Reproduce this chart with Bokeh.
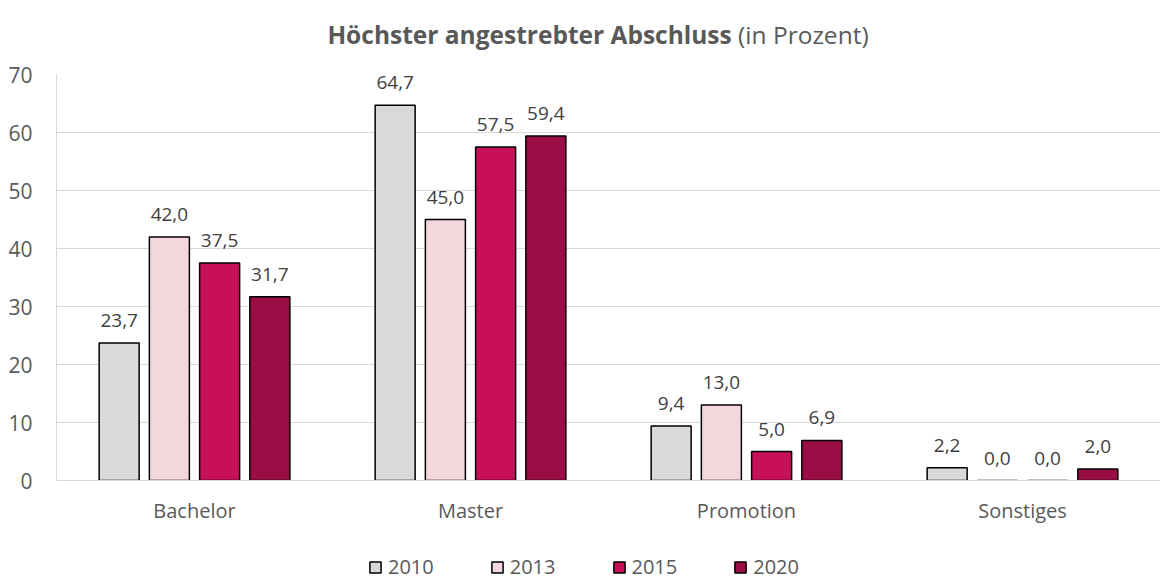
from bokeh.plotting import figure
from bokeh.models import ColumnDataSource, FactorRange, Legend, LegendItem, Range1d, Div
from bokeh.layouts import column
from bokeh.transform import dodge
from bokeh.core.properties import value
from bokeh.embed import file_html
from bokeh.resources import INLINE

categories = ["Bachelor", "Master", "Promotion", "Sonstiges"]
years = ["2010", "2013", "2015", "2020"]
v2010 = [23.7, 64.7, 9.4, 2.2]
v2013 = [42.0, 45.0, 13.0, 0.0]
v2015 = [37.5, 57.5, 5.0, 0.0]
v2020 = [31.7, 59.4, 6.9, 2.0]
colors = ["#d9d9d9", "#f4d7dc", "#c8105a", "#9b0d45"]
title_bold = "Höchster angestrebter Abschluss"
title_rest = "(in Prozent)"

FONT = "Open Sans"
series = [v2010, v2013, v2015, v2020]
data = {"cat": categories}
for y, vals in zip(years, series):
    data["y" + y] = vals
    data["l" + y] = [f"{v:.1f}".replace(".", ",") for v in vals]
src = ColumnDataSource(data)

title = Div(text=f'<div style="width:1160px;box-sizing:border-box;padding-left:36px;'
                 f'text-align:center;font-family:\'{FONT}\';'
                 f'font-size:24.5px;line-height:30px;color:#595959;padding-top:20px;">'
                 f'<b>{title_bold}</b> {title_rest}</div>',
            width=1160, height=60, margin=0)

p = figure(width=1160, height=470, x_range=FactorRange(*categories),
           y_range=Range1d(0, 70), output_backend="svg", toolbar_location=None,
           min_border_left=56, min_border_right=0, min_border_top=14,
           min_border_bottom=50)
p.outline_line_color = None
p.xgrid.grid_line_color = None
p.ygrid.grid_line_color = "#d9d9d9"
p.ygrid.grid_line_width = 1

offsets = [-0.273, -0.091, 0.091, 0.273]
for y, off, c in zip(years, offsets, colors):
    p.vbar(x=dodge("cat", off, range=p.x_range), top="y" + y, width=0.145,
           source=src, fill_color=c, line_color="black", line_width=1.5)
    p.text(x=dodge("cat", off, range=p.x_range), y="y" + y, text="l" + y, source=src,
           text_align="center", text_baseline="bottom", y_offset=-16,
           text_font=value(FONT), text_font_size="19px", text_color="#404040")

p.yaxis.ticker = list(range(0, 71, 10))
p.yaxis.axis_line_color = "#d9d9d9"
p.yaxis.major_tick_line_color = None
p.yaxis.minor_tick_line_color = None
p.yaxis.major_label_text_font = FONT
p.yaxis.major_label_text_font_size = "21px"
p.yaxis.major_label_text_color = "#595959"
p.yaxis.major_label_standoff = 18

p.xaxis.axis_line_color = "#d9d9d9"
p.xaxis.major_tick_line_color = None
p.xaxis.minor_tick_line_color = None
p.xaxis.major_label_text_font = FONT
p.xaxis.major_label_text_font_size = "20px"
p.xaxis.major_label_text_color = "#595959"
p.xaxis.major_label_standoff = 10

# legend figure: swatch renderers with a single undrawable (NaN) row, only used for the legend
pl = figure(width=1160, height=50, x_range=Range1d(0, 1),
            y_range=Range1d(0, 1), output_backend="svg", toolbar_location=None,
            x_axis_location=None, y_axis_location=None, min_border=0)
pl.grid.visible = False
pl.outline_line_color = None
swatch = ColumnDataSource(dict(x=[float("nan")], top=[float("nan")]))
items = []
for y, c in zip(years, colors):
    r = pl.vbar(x="x", top="top", width=0.1, source=swatch,
                fill_color=c, line_color="black", line_width=1.5)
    items.append(LegendItem(label=y, renderers=[r]))
legend = Legend(items=items, orientation="horizontal", location=(312, 0),
                glyph_width=14, glyph_height=14, label_text_font=FONT,
                label_text_font_size="20px", label_text_color="#595959",
                spacing=56, label_standoff=6, padding=0, margin=0,
                border_line_color=None, background_fill_alpha=0)
pl.add_layout(legend, "center")

open("out.html", "w").write(file_html(column(title, p, pl), INLINE))
